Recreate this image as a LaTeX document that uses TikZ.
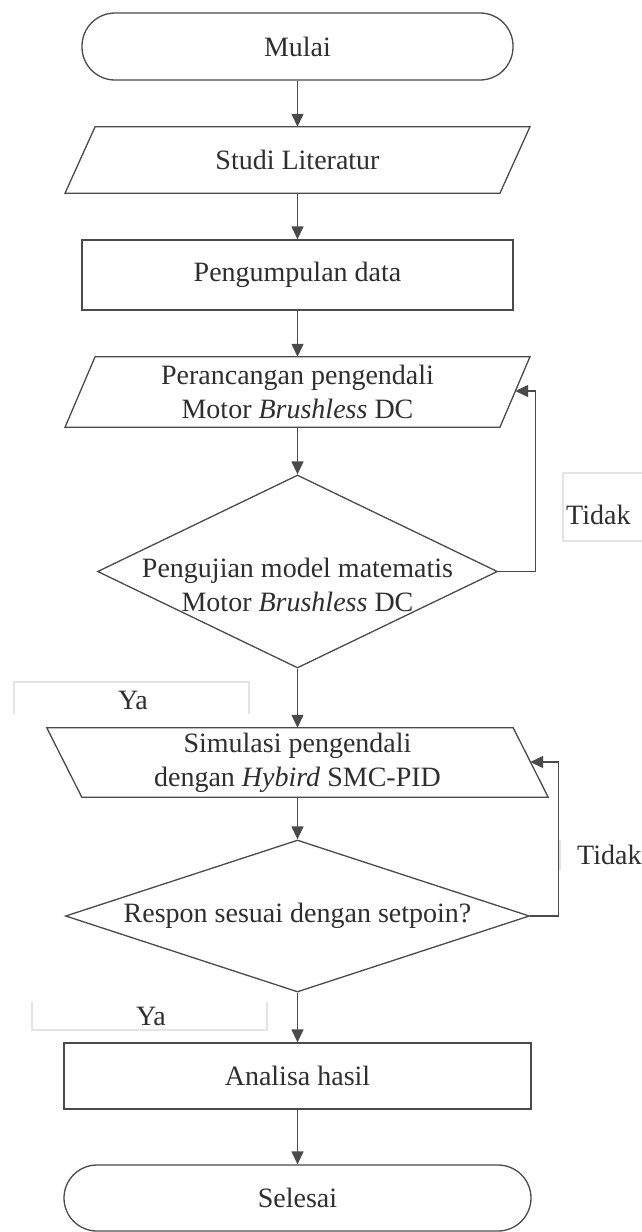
\documentclass[tikz,border=0pt]{standalone}
\usepackage{fontspec}
\setmainfont{Liberation Serif}
\usetikzlibrary{shapes.geometric,arrows.meta,calc}
\definecolor{ln}{HTML}{4A4A4A}
\definecolor{tx}{HTML}{2E2E2E}
\definecolor{faint}{HTML}{E4E4E4}
\begin{document}
\begin{tikzpicture}[x=1pt,y=-1pt,
  every node/.style={font=\fontsize{28}{34}\selectfont, text=tx},
  shp/.style={draw=ln, line width=1.3pt},
  term/.style={shp, rectangle, rounded corners=33pt, inner sep=0},
  proc/.style={shp, rectangle, inner sep=0},
  dec/.style={shp, diamond, inner sep=0},
  io/.style={rectangle, inner sep=0, align=center},
  arr/.style={draw=ln, line width=1.3pt, -{Triangle[width=12pt,length=13pt]}},
  fbox/.style={draw=faint, line width=1.2pt},
  lab/.style={inner sep=0}]
\useasboundingbox (0,0) rectangle (641,1232);

% shapes
\node[term, minimum width=431pt, minimum height=67pt] (mulai) at (297.5,46.5) {Mulai};

\node[io, minimum width=434.5pt, minimum height=66pt] (studi) at (297.5,160) {Studi Literatur};
\draw[shp] ([xshift=15pt]studi.north west) -- ([xshift=15pt]studi.north east)
  -- ([xshift=-15pt]studi.south east) -- ([xshift=-15pt]studi.south west) -- cycle;

\node[proc, minimum width=431pt, minimum height=70pt] (kumpul) at (297.5,275) {Pengumpulan data};

\node[io, minimum width=434.5pt, minimum height=70pt] (rancang) at (297.5,392) {Perancangan pengendali\\Motor \textit{Brushless} DC};
\draw[shp] ([xshift=15pt]rancang.north west) -- ([xshift=15pt]rancang.north east)
  -- ([xshift=-15pt]rancang.south east) -- ([xshift=-15pt]rancang.south west) -- cycle;

\node[dec, minimum width=400pt, minimum height=193pt,
  label={[align=center, yshift=-13pt]center:{Pengujian model matematis\\Motor \textit{Brushless} DC}}] (uji) at (297.5,571.5) {};

\node[io, minimum width=466pt, minimum height=69pt] (simul) at (297.5,762.5) {Simulasi pengendali\\dengan \textit{Hybird} SMC-PID};
\draw[shp] ([xshift=-17.5pt]simul.north west) -- ([xshift=-17.5pt]simul.north east)
  -- ([xshift=17.5pt]simul.south east) -- ([xshift=17.5pt]simul.south west) -- cycle;

\node[dec, minimum width=464pt, minimum height=152pt,
  label={center:{Respon sesuai dengan setpoin?}}] (respon) at (297.5,916) {};

\node[proc, minimum width=467pt, minimum height=66pt] (analisa) at (297.5,1076) {Analisa hasil};

\node[term, minimum width=467pt, minimum height=66pt] (selesai) at (297.5,1198) {Selesai};

% connectors
\draw[arr] (mulai.south) -- (studi.north);
\draw[arr] (studi.south) -- (kumpul.north);
\draw[arr] (kumpul.south) -- (rancang.north);
\draw[arr] (rancang.south) -- (uji.north);
\draw[arr] (uji.south) -- (simul.north);
\draw[arr] (simul.south) -- (respon.north);
\draw[arr] (respon.south) -- (analisa.north);
\draw[arr] (analisa.south) -- (selesai.north);

\coordinate (rancangR) at (515.2,391);
\draw[arr] (uji.east) -- ++(37,0) |- (rancangR);
\coordinate (simulR) at (530.2,762);
\draw[arr] (respon.east) -- ++(28.5,0) |- (simulR);

% faint label boxes
\draw[fbox] (645,473) -- (563,473) -- (563,541) -- (645,541);
\draw[fbox] (560,840) -- (560,870);
\draw[fbox] (14,714) -- (14,682) -- (249,682) -- (249,714);
\draw[fbox] (32,1002) -- (32,1030) -- (267,1030) -- (267,1002);

% labels
\node[lab, anchor=west] (tidak1) at (566,515) {Tidak};
\node[lab, anchor=west] (tidak2) at (577,855) {Tidak};
\node[lab] (ya1) at (133,700) {Ya};
\node[lab] (ya2) at (151,1016) {Ya};
\end{tikzpicture}
\end{document}
